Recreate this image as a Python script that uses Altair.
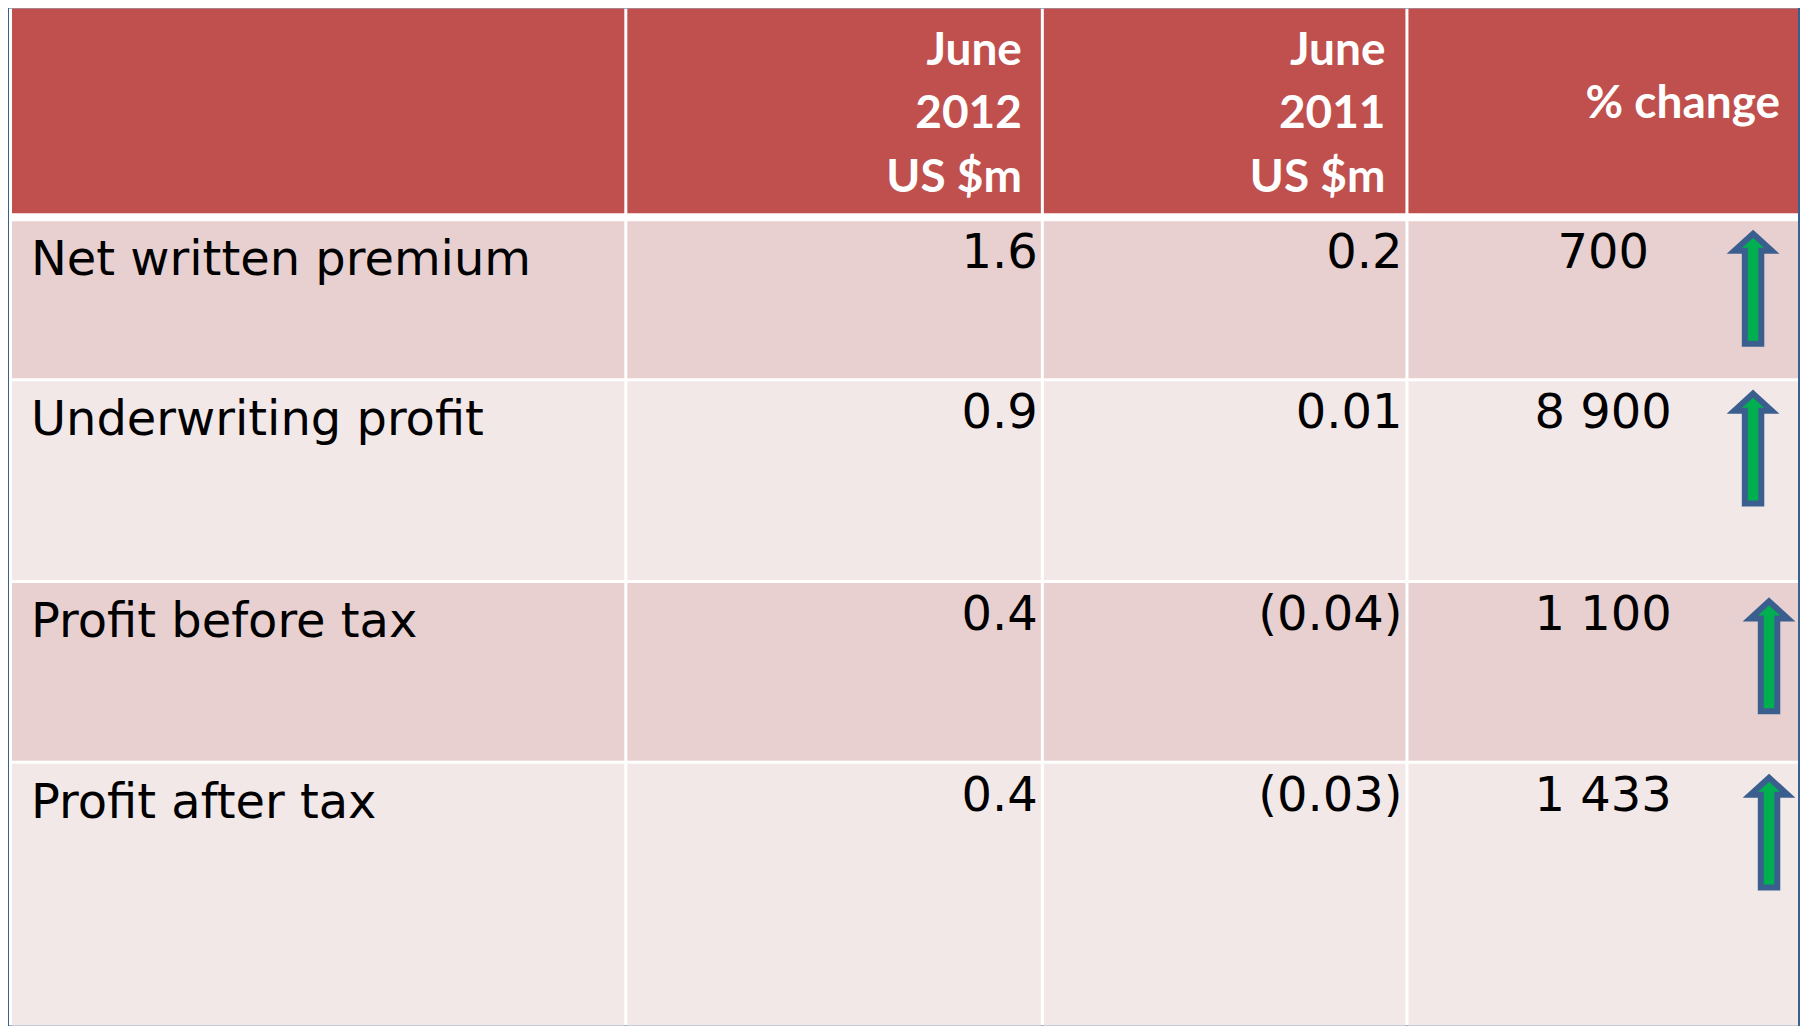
import altair as alt
import pandas as pd

# ---------------- data ----------------
row_labels = ["Net written premium", "Underwriting profit", "Profit before tax", "Profit after tax"]
june_2012 = ["1.6", "0.9", "0.4", "0.4"]
june_2011 = ["0.2", "0.01", "(0.04)", "(0.03)"]
pct_change = ["700", "8 900", "1 100", "1 433"]
trend = ["up", "up", "up", "up"]
header_labels = ["", "June\n2012\nUS $m", "June\n2011\nUS $m", "% change"]

# ---------------- layout (reference pixel space) ----------------
W, H = 1792, 1018
X_DOMAIN = [8, 8 + W]
Y_DOMAIN = [8 + H, 8]
col_left = [12, 628, 1045, 1410]
col_right = [625, 1042, 1407, 1802]
row_top = [7, 221, 381, 583, 764]
row_bottom = [213, 378, 580, 761, 1040]
header_anchor_x = [None, 1023, 1387, 1782]
header_baseline = [None, 64, 64, 118]
label_x = 31
label_dy = 54
num_dy = 47
num_anchor_x = [1039, 1404]
pct_center_x = 1605
arrow_x = [1755, 1755, 1771, 1771]
arrow_y = [288.5, 448.5, 656.5, 833.0]

BLUE = "#39618f"
HEADER = "#c0504d"
ODD = "#e8d0d1"
EVEN = "#f3e8e8"

xs = alt.Scale(domain=X_DOMAIN, range=[0, W], nice=False, zero=False)
ys = alt.Scale(domain=Y_DOMAIN, nice=False, zero=False)

# frame (white grid lines)
frame = pd.DataFrame([{"x": 9, "x2": 1804, "y": 5, "y2": 1040}])
frame_layer = alt.Chart(frame).mark_rect(color="white", clip=True).encode(
    x=alt.X("x:Q", scale=xs, axis=None),
    x2="x2:Q",
    y=alt.Y("y:Q", scale=ys, axis=None),
    y2="y2:Q",
)

cells = []
for r in range(5):
    kind = "header" if r == 0 else ("odd" if r % 2 == 1 else "even")
    for c in range(4):
        cells.append({"x": col_left[c], "x2": col_right[c], "y": row_top[r],
                      "y2": row_bottom[r], "kind": kind})
cells_df = pd.DataFrame(cells)
cell_layer = alt.Chart(cells_df).mark_rect(clip=True).encode(
    x=alt.X("x:Q", scale=xs, axis=None),
    x2="x2:Q",
    y=alt.Y("y:Q", scale=ys, axis=None),
    y2="y2:Q",
    color=alt.Color("kind:N", scale=alt.Scale(domain=["header", "odd", "even"],
                                               range=[HEADER, ODD, EVEN]), legend=None),
)

# header text
hdr = pd.DataFrame([{"x": header_anchor_x[c], "y": header_baseline[c], "t": header_labels[c]}
                    for c in range(1, 4)])
hdr_layer = alt.Chart(hdr).mark_text(
    align="right", baseline="alphabetic", font="Lato", fontWeight="bold",
    fontSize=46, color="white", lineBreak="\n", lineHeight=64,
).encode(
    x=alt.X("x:Q", scale=xs, axis=None),
    y=alt.Y("y:Q", scale=ys, axis=None),
    text="t:N",
)

# body rows
body = []
for i in range(4):
    top = row_top[i + 1]
    body.append({"row": i, "label": row_labels[i], "v12": june_2012[i], "v11": june_2011[i],
                 "pct": pct_change[i], "trend": trend[i],
                 "lx": label_x, "ly": top + label_dy, "ny": top + num_dy,
                 "x12": num_anchor_x[0], "x11": num_anchor_x[1], "xp": pct_center_x,
                 "ax": arrow_x[i], "ay": arrow_y[i]})
body_df = pd.DataFrame(body)

font_body = dict(font="DejaVu Sans", fontSize=48, color="black", baseline="alphabetic")

base = alt.Chart(body_df)
label_layer = base.mark_text(align="left", **font_body).encode(
    x=alt.X("lx:Q", scale=xs, axis=None), y=alt.Y("ly:Q", scale=ys, axis=None), text="label:N")
v12_layer = base.mark_text(align="right", **font_body).encode(
    x=alt.X("x12:Q", scale=xs, axis=None), y=alt.Y("ny:Q", scale=ys, axis=None), text="v12:N")
v11_layer = base.mark_text(align="right", **font_body).encode(
    x=alt.X("x11:Q", scale=xs, axis=None), y=alt.Y("ny:Q", scale=ys, axis=None), text="v11:N")
pct_layer = base.mark_text(align="center", **font_body).encode(
    x=alt.X("xp:Q", scale=xs, axis=None), y=alt.Y("ny:Q", scale=ys, axis=None), text="pct:N")

UP = "M0,-1 L0.34,-0.69 L0.15,-0.69 L0.15,1 L-0.15,1 L-0.15,-0.69 L-0.34,-0.69 Z"
DOWN = "M0,1 L0.34,0.69 L0.15,0.69 L0.15,-1 L-0.15,-1 L-0.15,0.69 L-0.34,0.69 Z"
arrow_layer = base.mark_point(
    filled=True, fill="#00b050", stroke="#3a5f8f", strokeWidth=6,
    size=12100, opacity=1, fillOpacity=1, strokeOpacity=1, strokeJoin="miter",
).encode(
    x=alt.X("ax:Q", scale=xs, axis=None),
    y=alt.Y("ay:Q", scale=ys, axis=None),
    shape=alt.Shape("trend:N", scale=alt.Scale(domain=["up", "down"], range=[UP, DOWN]),
                    legend=None),
)

chart = alt.layer(
    frame_layer, cell_layer, hdr_layer, label_layer, v12_layer, v11_layer, pct_layer, arrow_layer
).properties(
    width=W, height=H, background=BLUE, padding=0
).configure_view(stroke=None)

chart.save("out.html", embed_options={"renderer": "svg", "actions": False})
